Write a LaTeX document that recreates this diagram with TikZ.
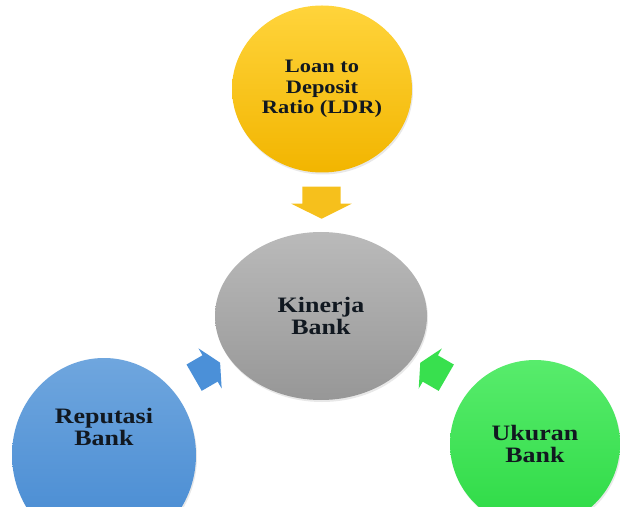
\documentclass[tikz,border=0pt]{standalone}
\usepackage{fontspec}
\setmainfont{Liberation Serif}[FakeStretch=1.18]
\usetikzlibrary{shapes.geometric,shapes.arrows,shadows,calc}
\definecolor{ldrtop}{HTML}{FFD43B}
\definecolor{ldrbot}{HTML}{F2B500}
\definecolor{kintop}{HTML}{BABABA}
\definecolor{kinbot}{HTML}{979797}
\definecolor{reptop}{HTML}{6FA6DE}
\definecolor{repbot}{HTML}{4489D2}
\definecolor{ukrtop}{HTML}{58EC6C}
\definecolor{ukrbot}{HTML}{2DDA45}
\definecolor{ldrarrow}{HTML}{F6C01C}
\definecolor{reparrow}{HTML}{4B90D8}
\definecolor{ukrarrow}{HTML}{38E04E}
\definecolor{labeltext}{HTML}{111820}
\tikzset{
  bubble/.style={ellipse, inner sep=0pt, align=center, text=labeltext,
    font=\bfseries\fontsize{22}{22}\selectfont,
    drop shadow={opacity=0.18, shadow xshift=1pt, shadow yshift=-2pt}},
  bubbletext/.style={align=center, inner sep=0pt, text=labeltext,
    font=\bfseries\fontsize{22}{22}\selectfont},
  blockarrow/.style={single arrow, draw=none, inner xsep=0pt, inner ysep=15pt,
    minimum height=30pt, minimum width=0pt, single arrow tip angle=127,
    single arrow head extend=8pt, single arrow head indent=0pt}
}
\begin{document}
\begin{tikzpicture}[x=1pt,y=1pt]
\useasboundingbox (0,0) rectangle (620,506);
\node [bubble, top color=ldrtop, bottom color=ldrbot, minimum width=180pt, minimum height=167pt,
  font=\bfseries\fontsize{19}{20.5}\selectfont] (ldr) at (322,417) {Loan to\\Deposit\\Ratio (LDR)};
\node [bubble, top color=kintop, bottom color=kinbot, minimum width=212pt, minimum height=168pt] (kinerja) at (321,190) {Kinerja\\Bank};
\node [bubble, top color=reptop, bottom color=repbot, minimum width=184pt, minimum height=194pt] (reputasi) at (104,51) {};
\node [bubbletext] (reputasitext) at ($(reputasi)+(0,28)$) {Reputasi\\Bank};
\node [bubble, top color=ukrtop, bottom color=ukrbot, minimum width=170pt, minimum height=168pt] (ukuran) at (535,62) {Ukuran\\Bank};
\node [blockarrow, fill=ldrarrow, rotate=-90, minimum height=32pt, inner ysep=19pt,
  single arrow head extend=11pt] (ldrarrow) at ($(ldr)!0.48!(kinerja)$) {};
\node [blockarrow, fill=reparrow, rotate=30] (reparrow) at ($(reputasi)!0.46!(kinerja)+(0,19)$) {};
\node [blockarrow, fill=ukrarrow, rotate=150] (ukrarrow) at ($(ukuran)!0.46!(kinerja)+(0,13)$) {};
\end{tikzpicture}
\end{document}
